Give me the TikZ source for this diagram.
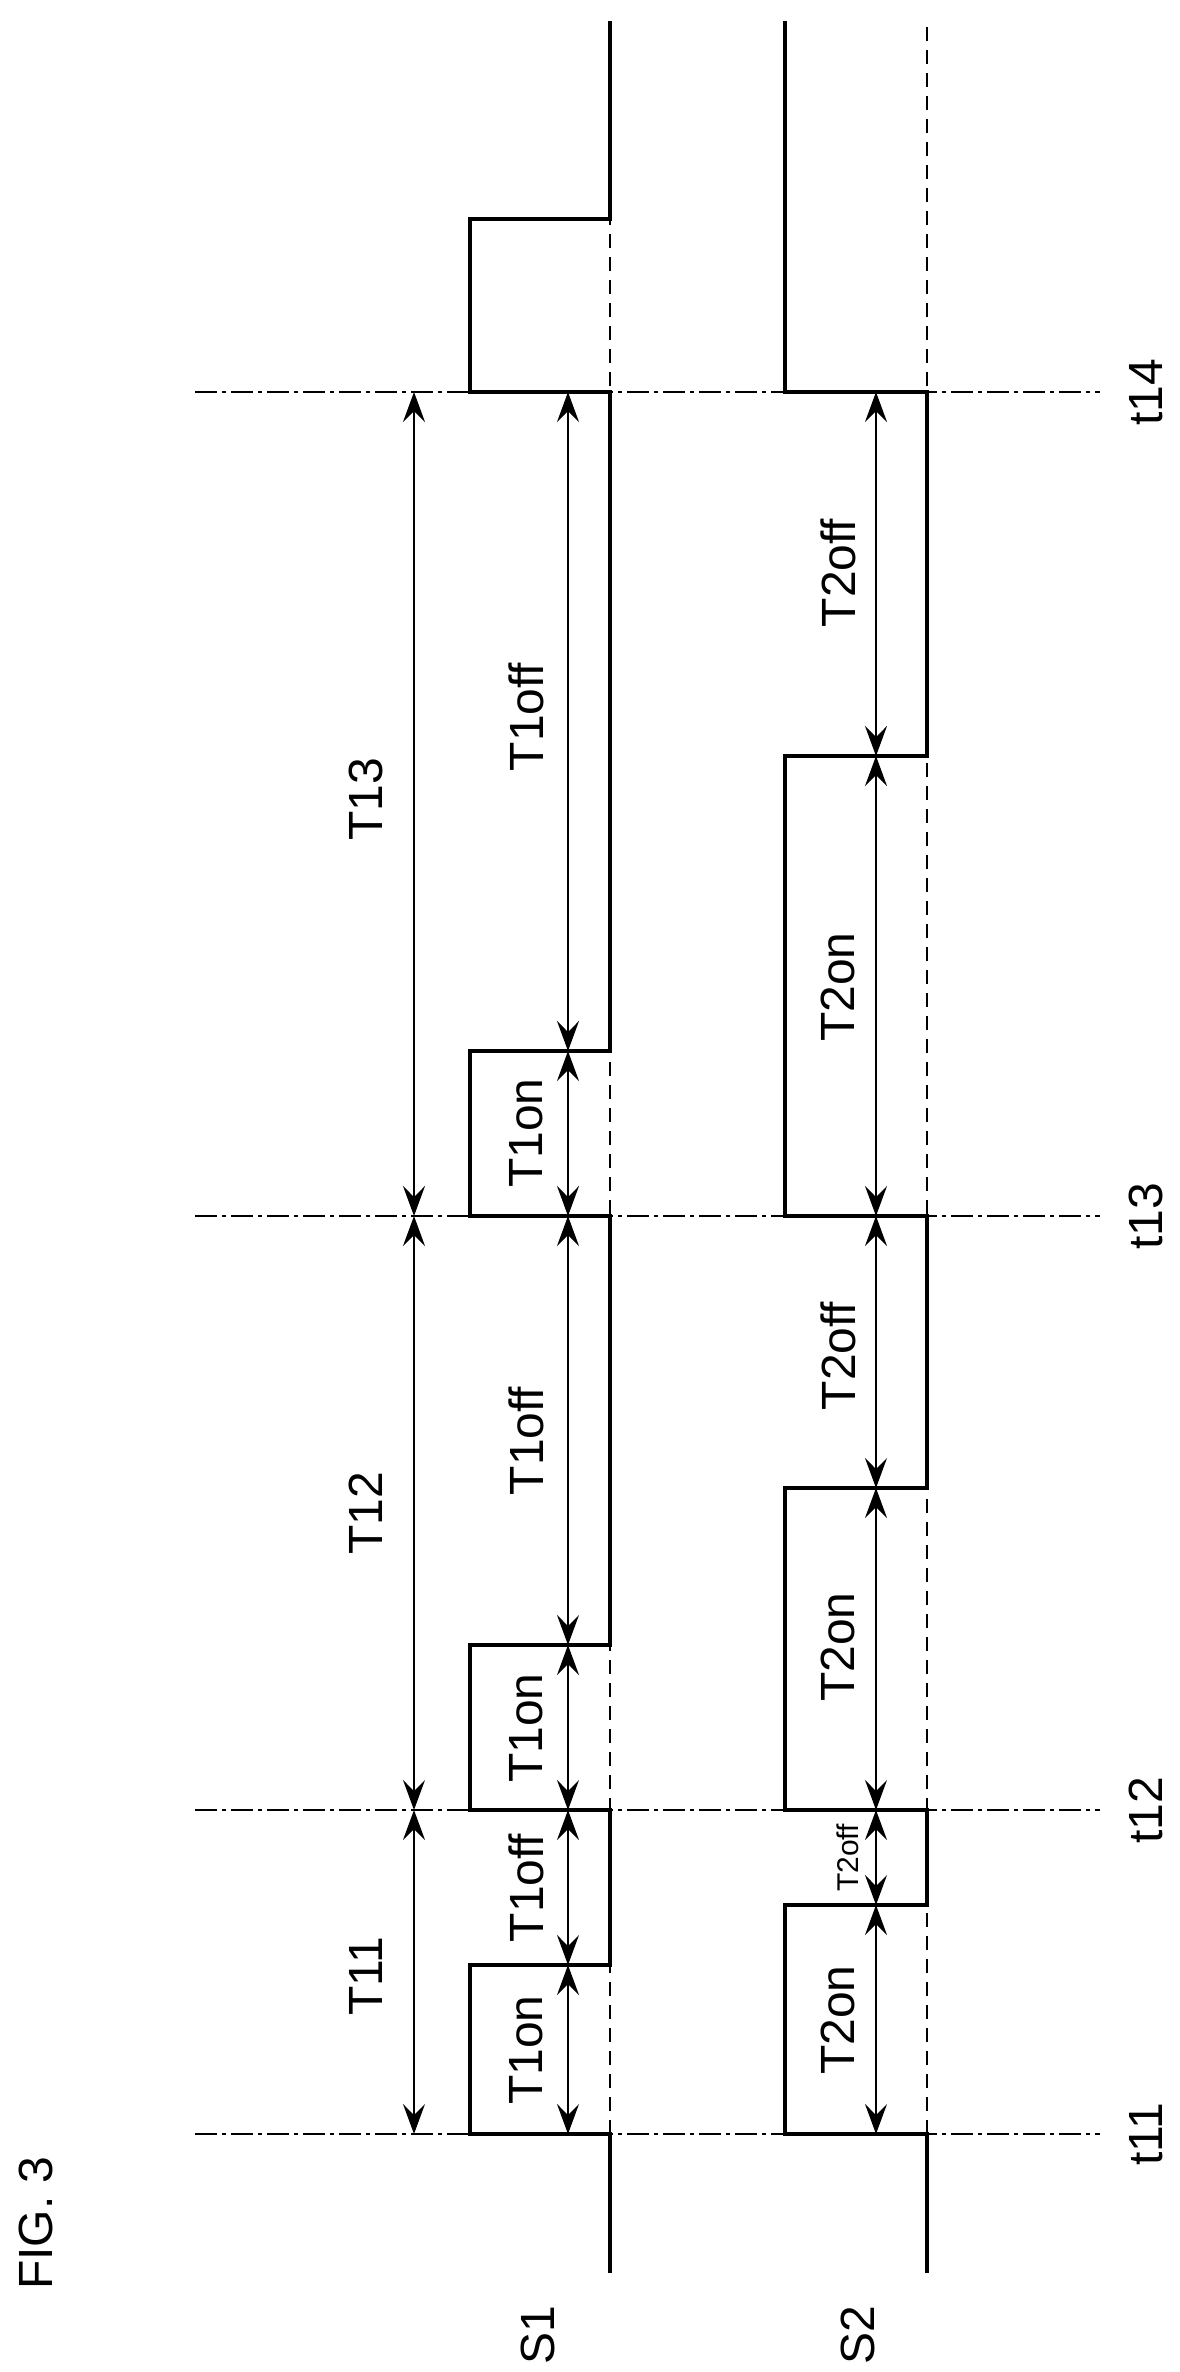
\documentclass[tikz,border=0pt]{standalone}
\usepackage{fontspec}
\setmainfont{Liberation Sans}
\usetikzlibrary{arrows.meta}
\begin{document}
\begin{tikzpicture}[x=1pt,y=-1pt,
  sig/.style={line width=3.5pt,line join=miter},
  ref/.style={line width=1.6pt,dash pattern=on 14pt off 9pt},
  tline/.style={line width=2.4pt,dash pattern=on 22pt off 5pt on 4pt off 5pt},
  dim/.style={line width=1.4pt,{Stealth[length=30pt,width=22pt,inset=11pt]}-{Stealth[length=30pt,width=22pt,inset=11pt]}},
  lab/.style={rotate=90,font=\fontsize{48}{50}\selectfont,inner sep=0pt},
  slab/.style={rotate=90,font=\fontsize{30}{32}\selectfont,inner sep=0pt}]
\useasboundingbox (0,0) rectangle (1179,2372);
% time lines
\foreach \n/\y in {t11/2134,t12/1810,t13/1216,t14/392}{
  \draw[tline] (195,\y) -- (1100,\y);
  \node[lab] (\n) at (1146,\y) {\n};
}
% reference (low-level) dashed lines
\draw[ref] (610,2134) -- (610,21);
\draw[ref] (927,2134) -- (927,21);
% S1
\draw[sig] (610,2273) -- (610,2134) -- (470,2134) -- (470,1965) -- (610,1965) -- (610,1810)
  -- (470,1810) -- (470,1645) -- (610,1645) -- (610,1216) -- (470,1216) -- (470,1051) -- (610,1051)
  -- (610,392) -- (470,392) -- (470,219) -- (610,219) -- (610,21);
% S2
\draw[sig] (927,2273) -- (927,2134) -- (785,2134) -- (785,1905) -- (927,1905) -- (927,1810)
  -- (785,1810) -- (785,1488) -- (927,1488) -- (927,1216) -- (785,1216) -- (785,756) -- (927,756)
  -- (927,392) -- (785,392) -- (785,21);
% dimension coordinates
\foreach \y/\n in {2134/a,1810/b,1216/c,392/d}{\coordinate (P\n) at (414,\y);}
\foreach \y/\n in {2134/a,1965/a1,1810/b,1645/b1,1216/c,1051/c1,392/d}{\coordinate (Q\n) at (568,\y);}
\foreach \y/\n in {2134/a,1905/a1,1810/b,1488/b1,1216/c,756/c1,392/d}{\coordinate (R\n) at (876,\y);}
\draw[dim] (Pa) -- (Pb); \draw[dim] (Pb) -- (Pc); \draw[dim] (Pc) -- (Pd);
\draw[dim] (Qa) -- (Qa1); \draw[dim] (Qa1) -- (Qb); \draw[dim] (Qb) -- (Qb1); \draw[dim] (Qb1) -- (Qc);
\draw[dim] (Qc) -- (Qc1); \draw[dim] (Qc1) -- (Qd);
\draw[dim] (Ra) -- (Ra1); \draw[dim] (Ra1) -- (Rb); \draw[dim] (Rb) -- (Rb1); \draw[dim] (Rb1) -- (Rc);
\draw[dim] (Rc) -- (Rc1); \draw[dim] (Rc1) -- (Rd);
% labels
\node[lab] (T11) at (366,1976) {T11};
\node[lab] (T12) at (366,1513) {T12};
\node[lab] (T13) at (366,799) {T13};
\node[lab] (L1) at (526,2050) {T1on};
\node[lab] (L2) at (526,1888) {T1off};
\node[lab] (L3) at (526,1728) {T1on};
\node[lab] (L4) at (526,1441) {T1off};
\node[lab] (L5) at (526,1133) {T1on};
\node[lab] (L6) at (526,717) {T1off};
\node[lab] (M1) at (838,2020) {T2on};
\node[slab] (M2) at (848,1858) {T2off};
\node[lab] (M3) at (838,1647) {T2on};
\node[lab] (M4) at (838,1356) {T2off};
\node[lab] (M5) at (838,987) {T2on};
\node[lab] (M6) at (838,573) {T2off};
\node[lab] (S1) at (538,2335) {S1};
\node[lab] (S2) at (858,2335) {S2};
\node[lab] (fig) at (36,2223) {FIG. 3};
\end{tikzpicture}
\end{document}
